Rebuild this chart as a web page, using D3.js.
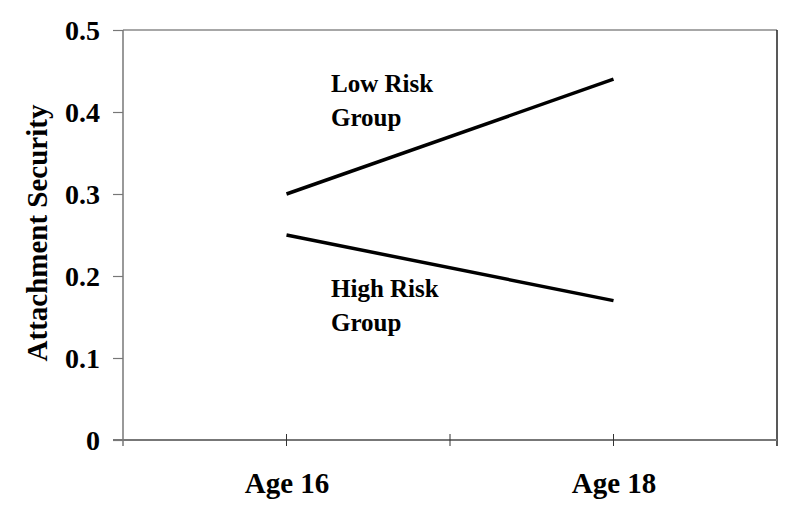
<!DOCTYPE html>
<html>
<head>
<meta charset="utf-8">
<script src="https://cdn.jsdelivr.net/npm/d3@7"></script>
<style>
  body { margin: 0; background: #fff; }
  svg { display: block; }
  text { font-family: "Liberation Serif", "Times New Roman", serif; font-weight: bold; fill: #000; }
</style>
</head>
<body>
<svg id="chart"></svg>
<script>
// data
var ages = ["Age 16", "Age 18"];
var lowRisk = [0.30, 0.44];
var highRisk = [0.25, 0.17];
var yTicks = [0, 0.1, 0.2, 0.3, 0.4, 0.5];
var lowLabel = ["Low Risk", "Group"];
var highLabel = ["High Risk", "Group"];
var yTitle = "Attachment Security";

var screen = {width: 800, height: 512};
var plot = {left: 123, right: 777, top: 30, bottom: 440};

var svg = d3.select("#chart")
  .attr("width", screen.width)
  .attr("height", screen.height);

var xScale = d3.scalePoint()
  .domain(ages)
  .range([plot.left, plot.right])
  .padding(0.5);

// boundary scale for the tick marks between categories
var xEdge = d3.scaleLinear()
  .domain([0, 4])
  .range([plot.left, plot.right]);

var yScale = d3.scaleLinear()
  .domain([0, 0.5])
  .range([plot.bottom, plot.top]);

// frame: top grey, right dark
svg.append("line")
  .attr("x1", plot.left).attr("x2", plot.right)
  .attr("y1", plot.top).attr("y2", plot.top)
  .attr("stroke", "#8a8a8a").attr("stroke-width", 1.5);
svg.append("line")
  .attr("x1", plot.right).attr("x2", plot.right)
  .attr("y1", plot.top).attr("y2", plot.bottom + 6)
  .attr("stroke", "#222").attr("stroke-width", 1.5);

// y axis
var yAxis = d3.axisLeft(yScale)
  .tickValues(yTicks)
  .tickFormat(function(d) { return d === 0 ? "0" : d3.format(".1f")(d); })
  .tickSizeInner(10)
  .tickSizeOuter(0)
  .tickPadding(13);

var gy = svg.append("g")
  .attr("transform", "translate(" + plot.left + ",0)")
  .call(yAxis);
gy.select(".domain").remove();
gy.selectAll(".tick line").attr("stroke", "#777").attr("stroke-width", 1.2);
gy.selectAll(".tick text")
  .attr("font-size", 28)
  .attr("dy", "0.34em");
gy.append("line")
  .attr("x1", 0).attr("x2", 0)
  .attr("y1", plot.top).attr("y2", plot.bottom + 6)
  .attr("stroke", "#777").attr("stroke-width", 1.5);

// x axis line with crossing ticks
var gx = svg.append("g");
gx.append("line")
  .attr("x1", plot.left - 10).attr("x2", plot.right)
  .attr("y1", plot.bottom).attr("y2", plot.bottom)
  .attr("stroke", "#777").attr("stroke-width", 1.8);
gx.selectAll("line.xtick")
  .data(d3.range(1, 4))
  .enter()
  .append("line")
  .attr("class", "xtick")
  .attr("x1", function(d) { return xEdge(d); })
  .attr("x2", function(d) { return xEdge(d); })
  .attr("y1", plot.bottom - 6)
  .attr("y2", plot.bottom + 6)
  .attr("stroke", "#333").attr("stroke-width", 1);

// category labels
var xAxis = d3.axisBottom(xScale).tickSize(0).tickPadding(0);
var gxl = svg.append("g")
  .attr("transform", "translate(0," + plot.bottom + ")")
  .call(xAxis);
gxl.select(".domain").remove();
gxl.selectAll(".tick text")
  .attr("font-size", 29)
  .attr("y", 53)
  .attr("dy", 0);

// y title
svg.append("text")
  .attr("transform", "translate(47," + 233 + ") rotate(-90)")
  .attr("text-anchor", "middle")
  .attr("font-size", 29)
  .text(yTitle);

// the two lines
var line = d3.line()
  .x(function(d, i) { return xScale(ages[i]); })
  .y(function(d) { return yScale(d); });

[lowRisk, highRisk].forEach(function(series) {
  svg.append("path")
    .datum(series)
    .attr("d", line)
    .attr("fill", "none")
    .attr("stroke", "#000")
    .attr("stroke-width", 3.5);
});

// group labels
var drawLabel = function(lines, baseline) {
  var t = svg.append("text")
    .attr("font-size", 25)
    .attr("x", 331)
    .attr("y", baseline);
  lines.forEach(function(s, i) {
    t.append("tspan")
      .attr("x", 331)
      .attr("dy", i === 0 ? 0 : 34)
      .text(s);
  });
};
drawLabel(lowLabel, 92);
drawLabel(highLabel, 297);
</script>
</body>
</html>
